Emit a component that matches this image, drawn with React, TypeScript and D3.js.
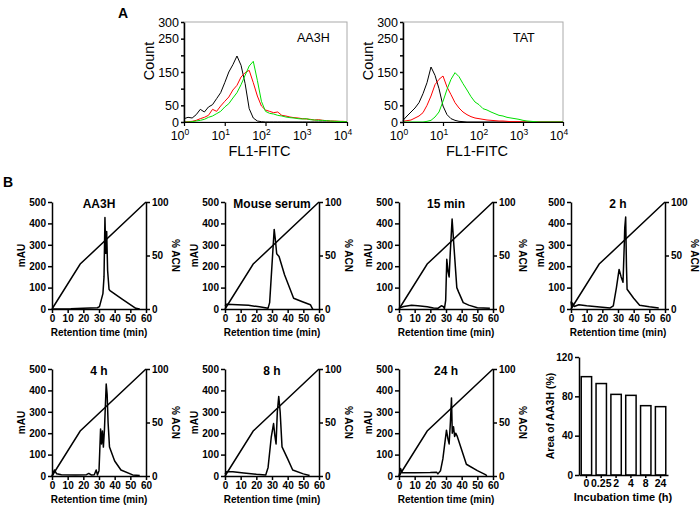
import { useEffect, useRef } from "react";
import * as d3 from "d3";

const font = "'Liberation Sans', Arial, sans-serif";

// ---- panel A: flow cytometry histograms (bins are log10 FL1-FITC) ----
const flowBins = [
  0, 0.1, 0.2, 0.3, 0.4, 0.5, 0.6, 0.7, 0.8, 0.9, 1.0, 1.1, 1.2, 1.3, 1.4, 1.5, 1.6, 1.7, 1.8, 1.9, 2.0,
  2.1, 2.2, 2.3, 2.4, 2.5, 2.6, 2.7, 2.8, 2.9, 3.0, 3.1, 3.2, 3.3, 3.4, 3.5, 3.6, 3.7, 3.8, 3.9, 4.0,
];
const aa3hBlack = [
  10, 14, 12, 22, 38, 30, 45, 52, 70, 88, 118, 150, 172, 198, 170, 115, 40, 12, 3, 1, 0,
  0, 0, 0, 0, 0, 0, 0, 0, 0, 0, 0, 0, 0, 0, 0, 0, 0, 0, 0, 0,
];
const aa3hRed = [
  0, 1, 2, 5, 10, 14, 20, 38, 32, 48, 62, 75, 96, 110, 135, 148, 155, 118, 78, 48, 36,
  32, 28, 30, 20, 18, 15, 13, 12, 10, 9, 8, 6, 7, 5, 4, 3, 3, 2, 2, 1,
];
const aa3hGreen = [
  0, 0, 1, 3, 5, 8, 14, 18, 25, 32, 45, 55, 72, 88, 112, 140, 168, 182, 125, 62, 32,
  26, 24, 20, 18, 15, 13, 12, 10, 9, 10, 7, 6, 5, 5, 4, 3, 2, 2, 1, 1,
];
const tatBlack = [
  5, 18, 30, 42, 58, 85, 118, 165, 140, 100, 48, 22, 10, 5, 2, 1, 0, 0, 0, 0, 0,
  0, 0, 0, 0, 0, 0, 0, 0, 0, 0, 0, 0, 0, 0, 0, 0, 0, 0, 0, 0,
];
const tatRed = [
  2, 4, 6, 12, 18, 28, 50, 78, 112, 128, 138, 105, 82, 58, 42, 30, 22, 16, 12, 10, 8,
  6, 5, 4, 3, 3, 2, 1, 1, 1, 0, 0, 0, 0, 0, 0, 0, 0, 0, 0, 0,
];
const tatGreen = [
  0, 0, 0, 0, 0, 0, 2, 5, 15, 30, 62, 98, 128, 148, 136, 115, 96, 76, 60, 52, 40,
  36, 30, 25, 20, 18, 14, 12, 10, 8, 5, 3, 2, 1, 0, 0, 0, 0, 0, 0, 0,
];
const countTicks = [0, 50, 100, 150, 200, 250, 300];
const countLabels = [0, 50, 150, 250, 300];
const decades = [0, 1, 2, 3, 4];

// ---- panel B: HPLC traces [time (min), mAU] ----
const acnTime = [0, 18, 60];
const acnPct = [0, 42, 100];
const aa3hTrace: [number, number][] = [
  [0, 0], [12, 1], [20, 3], [29, 6], [30.3, 11], [32.5, 72], [33.2, 150], [33.8, 428], [34.3, 260],
  [34.9, 362], [35.5, 180], [36.4, 92], [37, 86], [45, 45], [53.5, 3], [56, 0],
];
const serumTrace: [number, number][] = [
  [0, 15], [1, 22], [8, 20], [15, 17], [22, 10], [27.5, 4], [28.5, 30], [31.4, 372], [32.2, 320],
  [33, 258], [34.5, 245], [38, 160], [43.8, 50], [49, 35], [54.5, 20], [55.8, 2], [56.2, 0],
];
const min15Trace: [number, number][] = [
  [0, 5], [3, 12], [8, 18], [12, 15], [18, 10], [22, 5], [25, 4], [27, 15], [28.2, 12], [29, 2],
  [29.8, 40], [30.5, 232], [31.3, 175], [32, 150], [32.7, 260], [33.9, 420], [35, 300], [36.9, 100],
  [38, 80], [41, 30], [44.5, 18], [50, 6], [58, 3],
];
const h2Trace: [number, number][] = [
  [0, 35], [0.5, 10], [1, 28], [2, 12], [5, 20], [10, 15], [20, 8], [25, 5], [27, 15], [29, 100],
  [30.7, 185], [32, 150], [33.2, 125], [34, 300], [34.3, 378], [34.9, 430], [35.4, 200], [35.8, 92],
  [40, 50], [43.8, 18], [50, 10], [56, 5],
];
const h4Trace: [number, number][] = [
  [0, 0], [1.5, 28], [3, 10], [6, 6], [15, 5], [22, 6], [23.5, 12], [25, 5], [27, 6], [28.2, 28],
  [29, 5], [30, 25], [30.5, 120], [31, 220], [31.6, 150], [32.2, 210], [32.8, 135], [33.5, 220],
  [34.6, 430], [35.2, 380], [35.8, 250], [36.7, 135], [40, 70], [44, 28], [51.5, 5], [56, 2],
];
const h8Trace: [number, number][] = [
  [0, 10], [1, 20], [5, 20], [12, 14], [20, 8], [26, 5], [27.5, 40], [29.5, 180], [31, 245],
  [31.8, 190], [32.6, 150], [33.4, 300], [34.3, 372], [35.2, 300], [36.4, 136], [40, 80], [43.2, 28],
  [50, 10], [54, 2],
];
const h24Trace: [number, number][] = [
  [0, 0], [1, 35], [2, 15], [10, 15], [20, 16], [24, 18], [24.8, 10], [26.5, 25], [28, 80], [30.3, 214],
  [31.2, 175], [32, 150], [32.8, 250], [33.5, 365], [34, 200], [34.8, 230], [35.5, 185], [36.2, 200],
  [37.2, 185], [43, 55], [50, 25], [55.5, 5], [56, 0],
];
const timeTicks = [0, 10, 20, 30, 40, 50, 60];
const mauTicks = [0, 100, 200, 300, 400, 500];
const acnTicks = [0, 50, 100];

// ---- bar chart ----
const incubationLabels = ["0", "0.25", "2", "4", "8", "24"];
const areaValues = [100, 93, 82, 81, 70.5, 69.5];
const areaTicks = [0, 40, 80, 120];

type AxisProps = {
  orient: "left" | "right" | "bottom";
  scale: any;
  x?: number;
  y?: number;
  ticks: any[];
  format?: (d: any) => string;
  size?: number;
  fontSize?: number;
  bold?: boolean;
  width?: number;
};

function Axis({ orient, scale, x = 0, y = 0, ticks, format, size = 4, fontSize = 10, bold = true, width = 1.5 }: AxisProps) {
  const ref = useRef<SVGGElement>(null);
  useEffect(() => {
    const gen =
      orient === "left" ? d3.axisLeft(scale) : orient === "right" ? d3.axisRight(scale) : d3.axisBottom(scale);
    gen.tickValues(ticks).tickSizeInner(size).tickSizeOuter(0).tickPadding(2);
    if (format) gen.tickFormat(format as any);
    const g = d3.select(ref.current!);
    g.call(gen as any);
    g.attr("font-family", font)
      .attr("font-size", fontSize)
      .attr("font-weight", bold ? "bold" : "normal");
    g.selectAll("path, line").attr("stroke", "#000").attr("stroke-width", width);
    g.selectAll("text").attr("fill", "#000");
  });
  return <g ref={ref} transform={`translate(${x},${y})`} />;
}

function FlowPanel({ left, right, label, black, red, green }: any) {
  const top = 22;
  const bottom = 122;
  const x = d3.scaleLog().domain([1, 10000]).range([left, right]);
  const y = d3.scaleLinear().domain([0, 300]).range([bottom, top]);
  const line = d3
    .line<number>()
    .x((_, i) => x(10 ** flowBins[i]))
    .y((d) => y(d));
  const mid = (left + right) / 2;
  return (
    <g>
      <rect x={left} y={top} width={right - left} height={bottom - top} fill="none" stroke="#aaa" strokeWidth={1} />
      <path d={line(black)!} fill="none" stroke="#000" strokeWidth={1} />
      <path d={line(red)!} fill="none" stroke="#ff0000" strokeWidth={1} />
      <path d={line(green)!} fill="none" stroke="#00e000" strokeWidth={1} />
      <Axis
        orient="left"
        scale={y}
        x={left}
        ticks={countTicks}
        format={(d) => (countLabels.includes(d) ? String(d) : "")}
        size={3}
        fontSize={12.5}
        bold={false}
        width={1.5}
      />
      <Axis orient="bottom" scale={x} y={bottom} ticks={decades.map((d) => 10 ** d)} format={() => ""} size={4} width={1.2} />
      {decades.map((d) => (
        <text key={d} x={x(10 ** d) - 4} y={140} fontFamily={font} fontSize={12.5} textAnchor="middle">
          10
          <tspan dy={-5} fontSize={8.5}>
            {d}
          </tspan>
        </text>
      ))}
      <text x={right - 50} y={42} fontFamily={font} fontSize={12.5}>
        {label}
      </text>
      <text x={mid - 6} y={156} fontFamily={font} fontSize={14.5} textAnchor="middle">
        FL1-FITC
      </text>
      <text transform={`translate(${left - 30},61) rotate(-90)`} fontFamily={font} fontSize={14.5} textAnchor="middle">
        Count
      </text>
    </g>
  );
}

function Chromatogram({ left, top, title, trace }: { left: number; top: number; title: string; trace: [number, number][] }) {
  const w = 94;
  const h = 107;
  const x = d3.scaleLinear().domain([0, 60]).range([left, left + w]);
  const y = d3.scaleLinear().domain([0, 500]).range([top + h, top]);
  const y2 = d3.scaleLinear().domain([0, 100]).range([top + h, top]);
  const line = d3
    .line<[number, number]>()
    .x((d) => x(d[0]))
    .y((d) => y(d[1]));
  const acn = d3
    .line<number>()
    .x((_, i) => x(acnTime[i]))
    .y((d) => y2(d));
  return (
    <g>
      <path d={acn(acnPct)!} fill="none" stroke="#000" strokeWidth={1.5} />
      <path d={line(trace)!} fill="none" stroke="#000" strokeWidth={1.5} strokeLinejoin="round" />
      <Axis orient="left" scale={y} x={left} ticks={mauTicks} />
      <Axis orient="right" scale={y2} x={left + w} ticks={acnTicks} />
      <Axis orient="bottom" scale={x} y={top + h} ticks={timeTicks} />
      <text x={left + w / 2} y={top + 6} fontFamily={font} fontSize={12} fontWeight="bold" textAnchor="middle">
        {title}
      </text>
      <text x={left + w / 2} y={top + h + 27} fontFamily={font} fontSize={10} fontWeight="bold" textAnchor="middle">
        Retention time (min)
      </text>
      <text
        transform={`translate(${left - 27},${top + h / 2}) rotate(-90)`}
        fontFamily={font}
        fontSize={10}
        fontWeight="bold"
        textAnchor="middle"
      >
        mAU
      </text>
      <text
        transform={`translate(${left + w + 26},${top + h / 2}) rotate(90)`}
        fontFamily={font}
        fontSize={10}
        fontWeight="bold"
        textAnchor="middle"
      >
        % ACN
      </text>
    </g>
  );
}

function AreaBars() {
  const left = 579;
  const top = 357;
  const bottom = 475;
  const x = d3.scaleBand().domain(incubationLabels).range([left, 668]).paddingInner(0.3).paddingOuter(0.15);
  const y = d3.scaleLinear().domain([0, 120]).range([bottom, top]);
  return (
    <g>
      {areaValues.map((v, i) => (
        <rect
          key={i}
          x={x(incubationLabels[i])}
          y={y(v)}
          width={x.bandwidth()}
          height={bottom - y(v)}
          fill="#fff"
          stroke="#000"
          strokeWidth={1.5}
        />
      ))}
      <Axis orient="left" scale={y} x={left} ticks={areaTicks} />
      <Axis
        orient="bottom"
        scale={x}
        y={bottom}
        ticks={incubationLabels}
        size={3}
        fontSize={10.5}
      />
      <text x={623} y={501} fontFamily={font} fontSize={11} fontWeight="bold" textAnchor="middle">
        Incubation time (h)
      </text>
      <text
        transform={`translate(${left - 25},${(top + bottom) / 2}) rotate(-90)`}
        fontFamily={font}
        fontSize={10.5}
        fontWeight="bold"
        textAnchor="middle"
      >
        Area of AA3H (%)
      </text>
    </g>
  );
}

export default function App() {
  return (
    <svg width={700} height={507} viewBox="0 0 700 507" style={{ position: "absolute", left: 0, top: 0, background: "#fff" }}>
      <text x={118} y={18} fontFamily={font} fontSize={14} fontWeight="bold">
        A
      </text>
      <text x={3} y={187} fontFamily={font} fontSize={14} fontWeight="bold">
        B
      </text>
      <FlowPanel left={184} right={347} label="AA3H" black={aa3hBlack} red={aa3hRed} green={aa3hGreen} />
      <FlowPanel left={403} right={563} label="TAT" black={tatBlack} red={tatRed} green={tatGreen} />

      <Chromatogram left={52} top={202} title="AA3H" trace={aa3hTrace} />
      <Chromatogram left={225} top={202} title="Mouse serum" trace={serumTrace} />
      <Chromatogram left={399} top={202} title="15 min" trace={min15Trace} />
      <Chromatogram left={571} top={202} title="2 h" trace={h2Trace} />
      <Chromatogram left={52} top={369} title="4 h" trace={h4Trace} />
      <Chromatogram left={225} top={369} title="8 h" trace={h8Trace} />
      <Chromatogram left={399} top={369} title="24 h" trace={h24Trace} />
      <AreaBars />
    </svg>
  );
}
